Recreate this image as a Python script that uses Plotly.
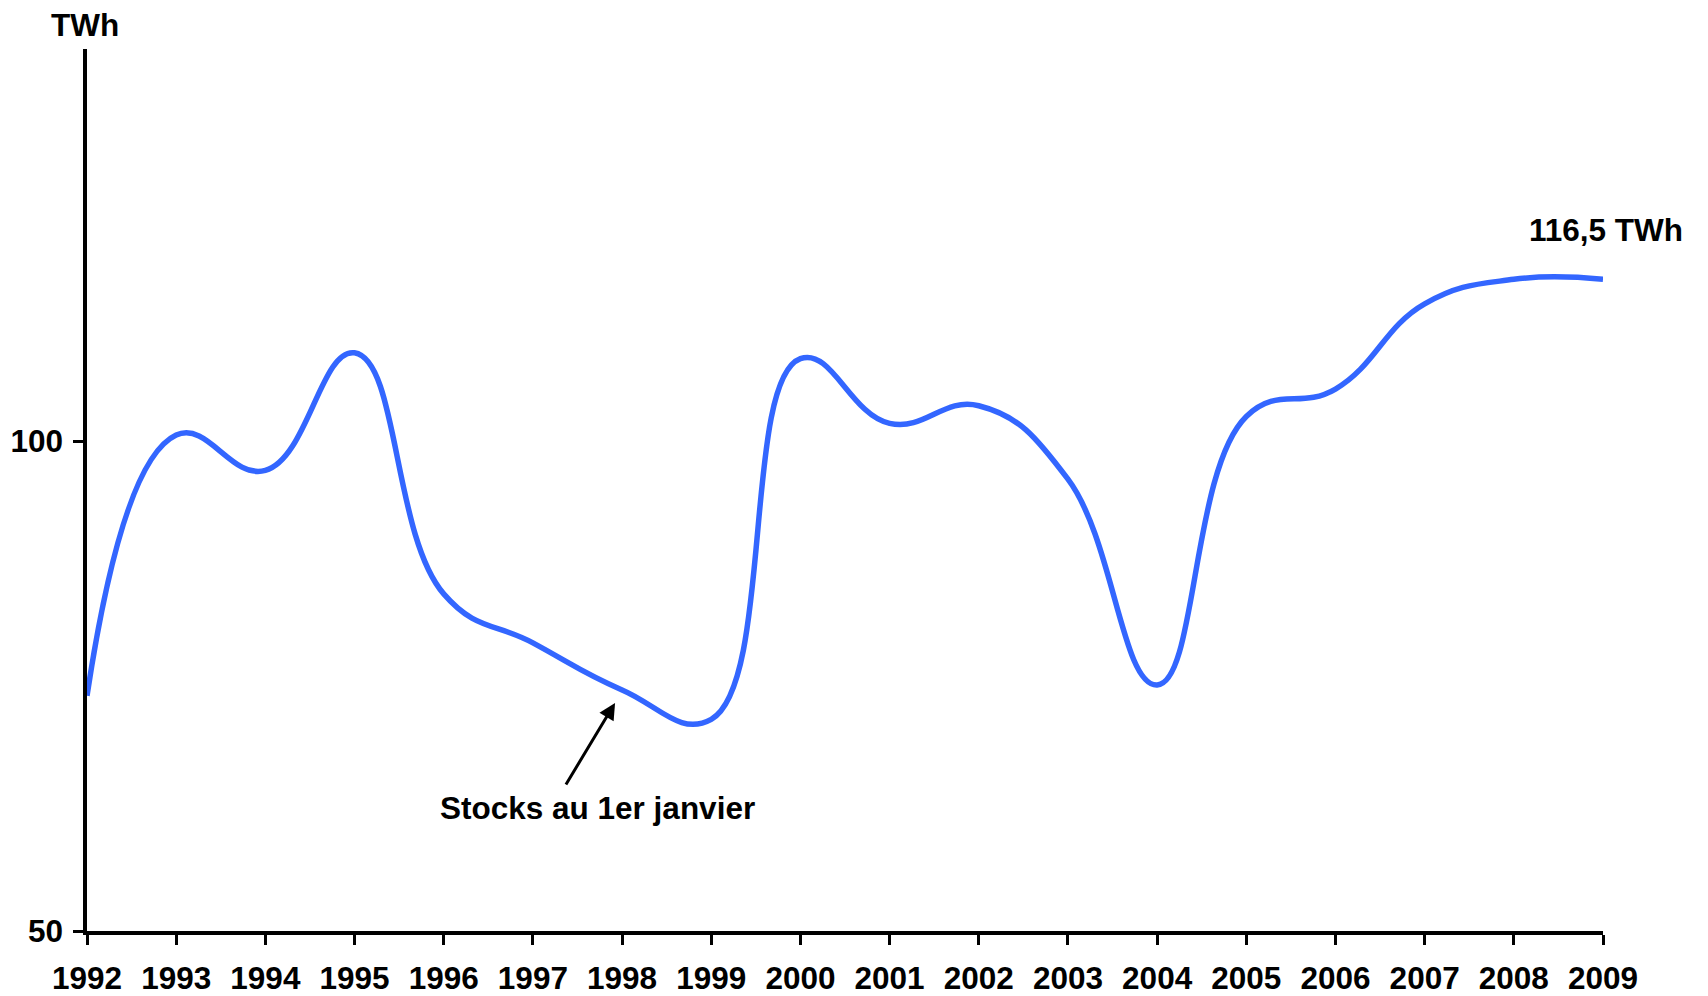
import plotly.graph_objects as go

years = list(range(1992, 2010))
stocks_twh = [74.0, 100.6, 97.0, 109.0, 84.4, 79.4, 74.6, 71.6, 108.4,
              101.8, 103.6, 96.1, 75.1, 102.5, 105.3, 114.0, 116.5, 116.5]
y_ticks = [50, 100]
end_label = "116,5 TWh"
unit_label = "TWh"
series_label = "Stocks au 1er janvier"

FONT = "Liberation Sans, Arial, sans-serif"
BLUE = "#3366FF"
FS = 31.5

fig = go.Figure()
fig.add_trace(go.Scatter(
    x=years, y=stocks_twh, mode="lines",
    line=dict(color=BLUE, width=5.5, shape="spline", smoothing=1.25),
    hoverinfo="x+y", showlegend=False,
))

# drop line at last point
fig.add_shape(type="line", xref="x", yref="y", xsizemode="pixel",
              xanchor=years[-1], x0=6, x1=6,
              y0=y_ticks[0], y1=stocks_twh[-1] - 0.6,
              line=dict(color="black", width=3.5))

# end value label
fig.add_annotation(x=years[-1], y=stocks_twh[-1], text=end_label,
                   showarrow=False, xanchor="center", yanchor="middle",
                   xshift=3, yshift=49,
                   font=dict(family=FONT, size=FS, color="black", weight="bold"))

# unit label
fig.add_annotation(xref="paper", yref="paper", x=0, y=1, text=unit_label,
                   showarrow=False, xanchor="center", yanchor="middle",
                   xshift=-2, yshift=24,
                   font=dict(family=FONT, size=FS, color="black", weight="bold"))

# arrow
idx98 = years.index(1998)
fig.add_annotation(x=years[idx98], y=stocks_twh[idx98], text="",
                   showarrow=True, arrowhead=2, arrowsize=1.1, arrowwidth=3,
                   arrowcolor="black", ax=-50, ay=83, xshift=-7, yshift=-13)
fig.add_annotation(x=1997.72, y=62.6, text=series_label, showarrow=False,
                   xanchor="center", yanchor="middle",
                   font=dict(family=FONT, size=FS, color="black", weight="bold"))

fig.update_xaxes(range=[years[0], years[-1]], tickvals=years,
                 showgrid=False, zeroline=False, automargin=False,
                 showline=True, linecolor="black", linewidth=3.5,
                 ticks="outside", ticklen=10, tickwidth=3, tickcolor="black",
                 ticklabelstandoff=6,
                 tickfont=dict(family=FONT, size=FS, color="black", weight="bold"))
fig.update_yaxes(range=[50, 140], tickvals=y_ticks,
                 showgrid=False, zeroline=False, automargin=False,
                 showline=True, linecolor="black", linewidth=3.5,
                 ticks="outside", ticklen=10, tickwidth=3, tickcolor="black",
                 ticklabelstandoff=4,
                 tickfont=dict(family=FONT, size=FS, color="black", weight="bold"))

fig.update_layout(width=1700, height=988,
                  margin=dict(l=79, r=105, t=41, b=65),
                  paper_bgcolor="white", plot_bgcolor="white")

fig.write_html("out.html")
